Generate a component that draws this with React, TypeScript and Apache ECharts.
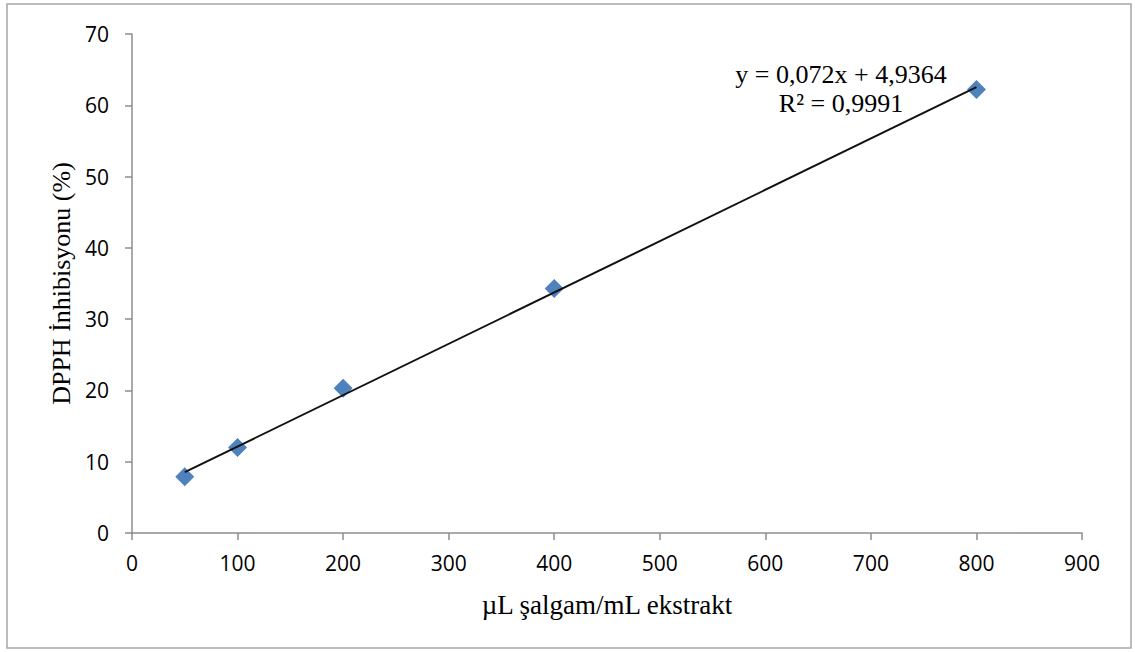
import React, { useEffect, useRef } from "react";
import * as echarts from "echarts";

// Extract concentration (µL turnip / mL extract) and DPPH inhibition (%)
const concentrations = [50, 100, 200, 400, 800];
const inhibition = [7.9, 12.0, 20.3, 34.3, 62.2];

// Linear fit reported on the chart
const slope = 0.072;
const intercept = 4.9364;
const rSquared = "0,9991";
const equationText = "y = 0,072x + 4,9364";

const xTicks = { min: 0, max: 900, interval: 100 };
const yTicks = { min: 0, max: 70, interval: 10 };

const axisGray = "#8c8c8c";
const markerBlue = "#4f81bd";
const serif = "'Liberation Serif', 'Times New Roman', serif";
const sans = "'Open Sans', 'Noto Sans', sans-serif";

export default function App() {
  const ref = useRef<HTMLDivElement>(null);

  useEffect(() => {
    if (!ref.current) return;
    const chart = echarts.init(ref.current, undefined, { renderer: "svg" });

    const xStart = concentrations[0];
    const xEnd = concentrations[concentrations.length - 1];
    const fitLine = [
      [xStart, slope * xStart + intercept],
      [xEnd, slope * xEnd + intercept],
    ];

    chart.setOption({
      animation: false,
      backgroundColor: "#ffffff",
      grid: { left: 132, right: 53, top: 34, bottom: 119, containLabel: false },
      graphic: [
        {
          type: "rect",
          shape: { x: 7, y: 4, width: 1124, height: 644 },
          style: { fill: "none", stroke: "#a6a6a6", lineWidth: 1.5 },
          silent: true,
        },
        {
          type: "text",
          x: 841,
          y: 60,
          style: {
            text: equationText + "\nR² = " + rSquared,
            font: `26px ${serif}`,
            fill: "#000",
            align: "center",
            lineHeight: 29,
          },
        },
      ],
      xAxis: {
        type: "value",
        min: xTicks.min,
        max: xTicks.max,
        interval: xTicks.interval,
        name: "µL şalgam/mL ekstrakt",
        nameLocation: "middle",
        nameGap: 58,
        nameTextStyle: { fontFamily: serif, fontSize: 27, color: "#000" },
        axisLine: { onZero: false, lineStyle: { color: axisGray, width: 1.5 } },
        axisTick: { show: true, length: 7, inside: false, lineStyle: { color: axisGray, width: 1.5 } },
        axisLabel: { fontFamily: sans, fontSize: 21, color: "#000", margin: 19 },
        splitLine: { show: false },
      },
      yAxis: {
        type: "value",
        min: yTicks.min,
        max: yTicks.max,
        interval: yTicks.interval,
        name: "DPPH İnhibisyonu (%)",
        nameLocation: "middle",
        nameGap: 57,
        nameRotate: 90,
        nameTextStyle: { fontFamily: serif, fontSize: 26, color: "#000" },
        axisLine: { show: true, lineStyle: { color: axisGray, width: 1.5 } },
        axisTick: { show: true, length: 7, inside: false, lineStyle: { color: axisGray, width: 1.5 } },
        axisLabel: { fontFamily: sans, fontSize: 21, color: "#000", margin: 23 },
        splitLine: { show: false },
      },
      series: [
        {
          name: "fit",
          type: "line",
          data: fitLine,
          symbol: "none",
          lineStyle: { color: "#111", width: 2 },
          z: 3,
          silent: true,
        },
        {
          name: "DPPH",
          type: "scatter",
          data: concentrations.map((c, i) => [c, inhibition[i]]),
          symbol: "diamond",
          symbolSize: [19, 19],
          itemStyle: { color: markerBlue, opacity: 1 },
          z: 2,
        },
      ],
    });

    return () => chart.dispose();
  }, []);

  return (
    <div
      ref={ref}
      style={{ position: "fixed", left: 0, top: 0, width: 1135, height: 652 }}
    />
  );
}
